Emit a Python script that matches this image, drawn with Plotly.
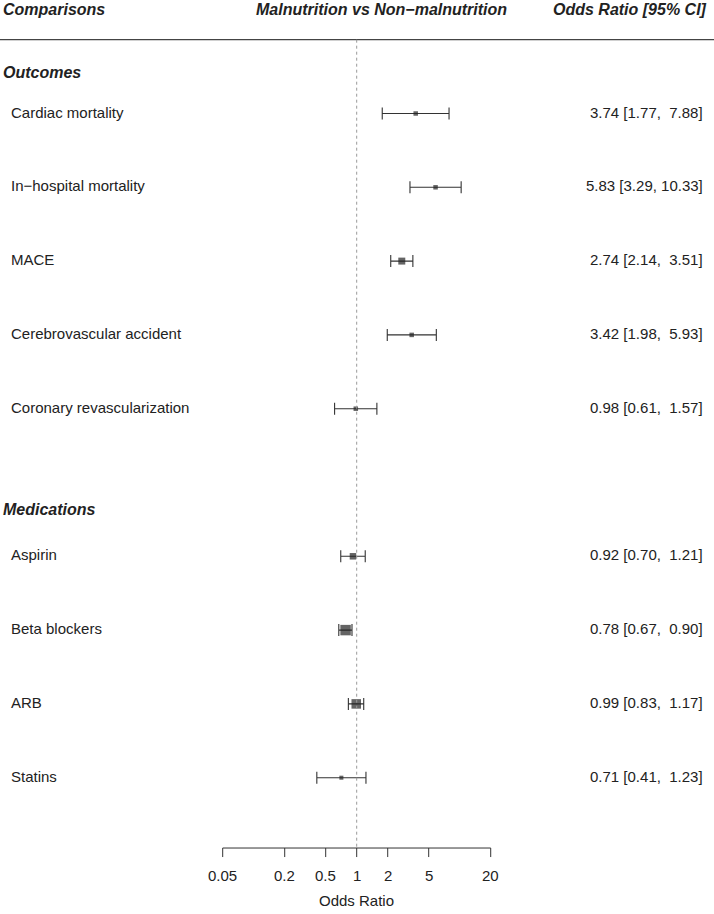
import numpy as np
import plotly.graph_objects as go

# --- Data ---
outcome_labels = ["Cardiac mortality", "In\u2212hospital mortality", "MACE",
                  "Cerebrovascular accident", "Coronary revascularization"]
outcome_or = [3.74, 5.83, 2.74, 3.42, 0.98]
outcome_lo = [1.77, 3.29, 2.14, 1.98, 0.61]
outcome_hi = [7.88, 10.33, 3.51, 5.93, 1.57]
outcome_wt = [1.0, 1.0, 2.4, 1.0, 1.0]

med_labels = ["Aspirin", "Beta blockers", "ARB", "Statins"]
med_or = [0.92, 0.78, 0.99, 0.71]
med_lo = [0.70, 0.67, 0.83, 0.41]
med_hi = [1.21, 0.90, 1.17, 1.23]
med_wt = [2.1, 5.4, 4.5, 0.8]

tick_vals = [0.05, 0.2, 0.5, 1, 2, 5, 20]
tick_text = ["0.05", "0.2", "0.5", "1", "2", "5", "20"]

# --- Layout helpers ---
W, H = 714, 914
ROW_PX = 73.8
ROW1_PX = 777.7        # pixel position of row 1 (Statins)
X1_PX = 356.7          # pixel of OR = 1
DEC_PX = 103.0         # pixels per decade

y_lo = 1 - (H - ROW1_PX) / ROW_PX
y_hi = 1 + ROW1_PX / ROW_PX
x_lo = -X1_PX / DEC_PX
x_hi = (W - X1_PX) / DEC_PX

# rows: medications 4..1, gap of one row, outcomes above
med_rows = list(range(len(med_labels), 0, -1))
out_rows = list(range(len(med_labels) + 1 + len(outcome_labels), len(med_labels) + 1, -1))

labels = outcome_labels + med_labels
ors = np.array(outcome_or + med_or)
los = np.array(outcome_lo + med_lo)
his = np.array(outcome_hi + med_hi)
wts = np.array(outcome_wt + med_wt)
rows = out_rows + med_rows

sizes = 4.5 * np.sqrt(wts)

FONT = "Liberation Sans, Arial, Helvetica, sans-serif"
DARK = "#222222"

fig = go.Figure()

fig.add_trace(go.Scatter(
    x=ors, y=rows, mode="markers",
    marker=dict(symbol="square", size=sizes, color=DARK, line=dict(width=0)),
    error_x=dict(type="data", symmetric=False, array=his - ors, arrayminus=ors - los,
                 width=6, thickness=1.1, color="#333333"),
    hoverinfo="skip", showlegend=False,
))

top_line = len(med_labels) + 1 + len(outcome_labels) + 1.0
axis_y = 0.047

shapes = [
    # header rule
    dict(type="line", xref="paper", yref="y", x0=0, x1=1, y0=top_line, y1=top_line,
         line=dict(color="#444444", width=1.2)),
    # reference line at OR = 1
    dict(type="line", xref="x", yref="y", x0=1, x1=1, y0=top_line, y1=axis_y,
         line=dict(color="#999999", width=1, dash="dot")),
    # x axis line
    dict(type="line", xref="x", yref="y", x0=tick_vals[0], x1=tick_vals[-1], y0=axis_y, y1=axis_y,
         line=dict(color="#333333", width=1)),
]
for tv in tick_vals:
    shapes.append(dict(type="line", xref="x", yref="y", x0=tv, x1=tv, y0=axis_y, y1=axis_y - 0.122,
                       line=dict(color="#333333", width=1)))

ann = []
for tv, tt in zip(tick_vals, tick_text):
    ann.append(dict(x=np.log10(tv), y=-0.32, xref="x", yref="y", text=tt, showarrow=False,
                    font=dict(size=15, color=DARK)))
ann.append(dict(x=0, y=-0.67, xref="x", yref="y", text="Odds Ratio", showarrow=False,
                font=dict(size=15, color=DARK)))

# left labels and right values
for lab, r, o, lo, hi in zip(labels, rows, ors, los, his):
    ann.append(dict(x=9 / W, y=r + 0.02, xref="paper", yref="y", text=lab, showarrow=False,
                    xanchor="left", font=dict(size=15, color=DARK)))
    val = f"{o:.2f} [{lo:.2f}, {hi:5.2f}]".replace(" ", "\u00a0")
    ann.append(dict(x=705 / W, y=r + 0.02, xref="paper", yref="y", text=val, showarrow=False,
                    xanchor="right", font=dict(size=15, color=DARK)))

# group headers
ann.append(dict(x=1 / W, y=out_rows[0] + 0.55, xref="paper", yref="y", text="<b><i>Outcomes</i></b>",
                showarrow=False, xanchor="left", font=dict(size=16, color=DARK)))
ann.append(dict(x=1 / W, y=med_rows[0] + 0.63, xref="paper", yref="y", text="<b><i>Medications</i></b>",
                showarrow=False, xanchor="left", font=dict(size=16, color=DARK)))

# column headers
head_y = top_line + 0.41
ann.append(dict(x=1 / W, y=head_y, xref="paper", yref="y", text="<b><i>Comparisons</i></b>",
                showarrow=False, xanchor="left", font=dict(size=16, color=DARK)))
ann.append(dict(x=509 / W, y=head_y, xref="paper", yref="y",
                text="<b><i>Malnutrition vs Non\u2212malnutrition</i></b>",
                showarrow=False, xanchor="right", font=dict(size=16, color=DARK)))
ann.append(dict(x=709 / W, y=head_y, xref="paper", yref="y", text="<b><i>Odds Ratio [95% CI]</i></b>",
                showarrow=False, xanchor="right", font=dict(size=16, color=DARK)))

fig.update_layout(
    width=W, height=H,
    margin=dict(l=0, r=0, t=0, b=0),
    paper_bgcolor="white", plot_bgcolor="white",
    font=dict(family=FONT, color=DARK),
    xaxis=dict(type="log", range=[x_lo, x_hi], visible=False, fixedrange=True),
    yaxis=dict(range=[y_lo, y_hi], visible=False, fixedrange=True),
    shapes=shapes, annotations=ann,
)

# drop the browser's default page margin so the figure fills the window
fig.write_html("out.html", config={"displayModeBar": False},
               post_script="document.body.style.margin = '0';")
